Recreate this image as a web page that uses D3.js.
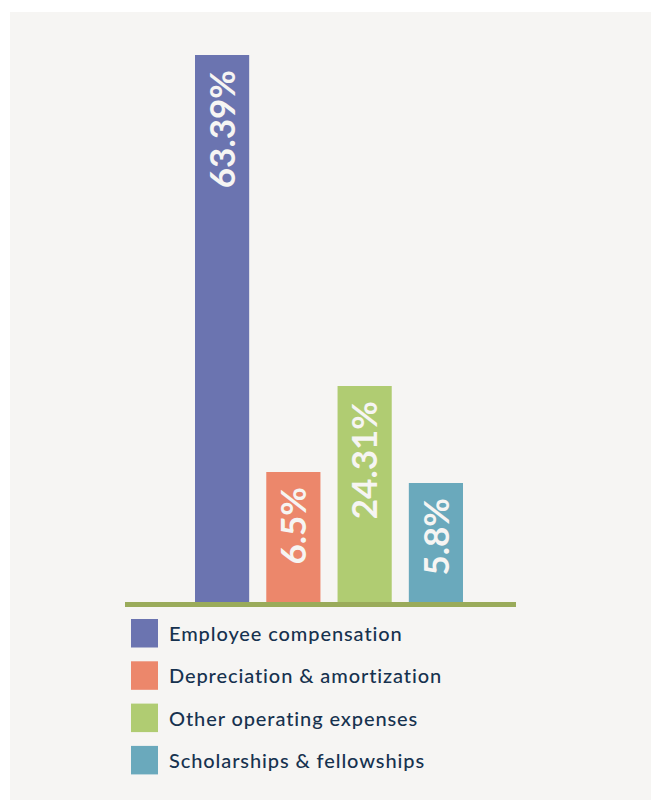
<!DOCTYPE html>
<html><head><meta charset="utf-8">
<script src="https://cdn.jsdelivr.net/npm/d3@7"></script>
<style>html,body{margin:0;padding:0;background:#fff;}svg{display:block;}</style>
</head><body>
<svg id="chart" width="651" height="800"></svg>
<script>
const categories = ["Employee compensation","Depreciation & amortization","Other operating expenses","Scholarships & fellowships"];
const values = [63.39, 6.5, 24.31, 5.8];
const labels = ["63.39%","6.5%","24.31%","5.8%"];
const colors = ["#6b74b0","#ec876b","#b0cc72","#6aa9bc"];

const svg = d3.select("#chart");
svg.append("rect").attr("x",10).attr("y",12).attr("width",641).attr("height",788).attr("fill","#f6f5f3");

const baseY = 602;
const x = d3.scaleBand().domain(categories).range([195, 463]).paddingInner(0.24).paddingOuter(0);
// bar heights in the picture are not proportional; piecewise scale through the sorted values
const sorted = [0].concat(values.slice().sort((a,b)=>a-b));
const y = d3.scaleLinear().domain(sorted).range([baseY, 483, 472, 386, 55]);

svg.selectAll("rect.bar").data(values).join("rect").attr("class","bar")
  .attr("x",(d,i)=>x(categories[i])).attr("y",d=>y(d))
  .attr("width",x.bandwidth()).attr("height",d=>baseY-y(d))
  .attr("fill",(d,i)=>colors[i]);

svg.append("rect").attr("x",125).attr("y",baseY).attr("width",391).attr("height",5).attr("fill","#9aab5a");

svg.selectAll("text.lab").data(values).join("text").attr("class","lab")
  .attr("transform",(d,i)=>`translate(${x(categories[i])+x.bandwidth()/2},${y(d)+15}) rotate(-90)`)
  .attr("text-anchor","end").attr("dy","0.36em")
  .attr("font-family","Lato, sans-serif").attr("font-weight","700").attr("font-size",35)
  .attr("fill","#f6f5f3").text((d,i)=>labels[i]);

const leg = svg.selectAll("g.leg").data(categories).join("g").attr("class","leg")
  .attr("transform",(d,i)=>`translate(131,${619+i*42.3})`);
leg.append("rect").attr("width",27).attr("height",28.5).attr("fill",(d,i)=>colors[i]);
leg.append("text").attr("x",38).attr("y",22).attr("font-family","Lato, sans-serif")
  .attr("font-size",20).attr("letter-spacing",0.9).attr("font-weight","500").attr("fill","#16324f").text(d=>d);
</script>
</body></html>
